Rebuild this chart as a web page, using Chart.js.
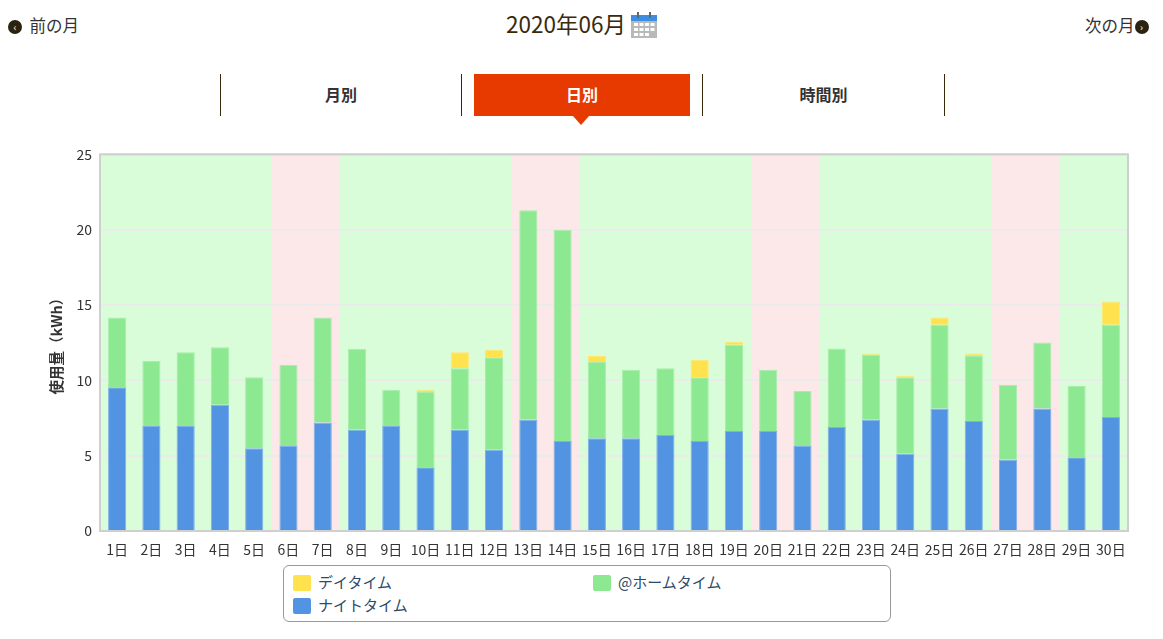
<!DOCTYPE html>
<html><head><meta charset="utf-8">
<script src="https://cdn.jsdelivr.net/npm/chart.js@4/dist/chart.umd.min.js"></script>
<style>
html,body{margin:0;padding:0;background:#fff;width:1163px;height:639px;overflow:hidden;font-family:"Noto Sans CJK JP","Noto Sans",sans-serif;}
.abs{position:absolute;}
.nav{font-size:16.5px;color:#333;top:13px;line-height:24px;}
.circ{display:inline-block;width:14px;height:14px;border-radius:50%;background:#2b2210;color:#fff;font-size:10px;line-height:14px;text-align:center;vertical-align:middle;position:relative;top:-1px;}
#title{left:0;width:1163px;top:8px;text-align:center;font-size:22.5px;color:#3a2a0c;line-height:30px;}
.div{width:1px;background:#3a2a0c;top:74px;height:42px;}
.tab{top:74px;height:42px;line-height:40px;text-align:center;font-size:16px;font-weight:bold;color:#333;}
#legend{left:283px;top:565px;width:606px;height:55px;border:1px solid #999;border-radius:6px;}
.li{position:absolute;font-size:15px;color:#2d4a68;line-height:18px;}
.sw{display:inline-block;width:18px;height:16px;border-radius:2px;vertical-align:middle;margin-right:7px;position:relative;top:-1px;}
</style></head>
<body>
<div class="abs nav" style="left:8px;"><span class="circ">&#8249;</span>&nbsp; 前の月</div>
<div class="abs nav" style="left:1085px;">次の月<span class="circ">&#8250;</span></div>
<div id="title" class="abs">2020年06月 <svg width="26" height="26" viewBox="0 0 26 26" style="vertical-align:middle;position:relative;top:-2px;">
<rect x="0" y="3" width="26" height="23" fill="#b9b9b9"/><rect x="0" y="3" width="26" height="6" fill="#3d8ee0"/>
<rect x="6" y="0" width="2" height="6" fill="#666"/><rect x="18" y="0" width="2" height="6" fill="#666"/>
<g fill="#fff"><rect x="3" y="11" width="4" height="3"/><rect x="8.5" y="11" width="4" height="3"/><rect x="14" y="11" width="4" height="3"/><rect x="19.5" y="11" width="4" height="3"/>
<rect x="3" y="16" width="4" height="3"/><rect x="8.5" y="16" width="4" height="3"/><rect x="14" y="16" width="4" height="3"/><rect x="19.5" y="16" width="4" height="3"/>
<rect x="3" y="21" width="4" height="3"/><rect x="8.5" y="21" width="4" height="3"/><rect x="14" y="21" width="4" height="3"/></g></svg></div>
<div class="abs div" style="left:220px;"></div>
<div class="abs div" style="left:461px;"></div>
<div class="abs div" style="left:702px;"></div>
<div class="abs div" style="left:944px;"></div>
<div class="abs tab" style="left:221px;width:240px;">月別</div>
<div class="abs tab" style="left:474px;width:216px;background:#e63a00;color:#fff;">日別</div>
<div class="abs" style="left:573px;top:116px;width:0;height:0;border-left:8px solid transparent;border-right:8px solid transparent;border-top:9px solid #e63a00;"></div>
<div class="abs tab" style="left:703px;width:241px;">時間別</div>
<div class="abs" style="left:0;top:138px;width:1163px;height:422px;"><canvas id="c"></canvas></div>
<div id="legend" class="abs">
<div class="li" style="left:9px;top:7px;"><span class="sw" style="background:#ffe24d"></span>デイタイム</div>
<div class="li" style="left:309px;top:7px;"><span class="sw" style="background:#8ce991"></span>@ホームタイム</div>
<div class="li" style="left:9px;top:30px;"><span class="sw" style="background:#5294e2"></span>ナイトタイム</div>
</div>
<script>
const days = ["1日","2日","3日","4日","5日","6日","7日","8日","9日","10日","11日","12日","13日","14日","15日","16日","17日","18日","19日","20日","21日","22日","23日","24日","25日","26日","27日","28日","29日","30日"];
const nightTime = [9.54,6.97,6.97,8.38,5.49,5.64,7.21,6.73,6.97,4.23,6.73,5.40,7.39,5.97,6.15,6.15,6.37,5.97,6.64,6.64,5.64,6.90,7.39,5.13,8.14,7.30,4.73,8.14,4.89,7.57];
const homeTime = [4.64,4.31,4.89,3.81,4.71,5.38,6.97,5.37,2.41,5.00,4.07,6.13,13.91,14.03,5.07,4.56,4.43,4.23,5.73,4.07,3.65,5.22,4.31,5.07,5.55,4.32,4.98,4.38,4.73,6.12];
const dayTime = [0,0,0,0,0,0,0,0,0,0.15,1.06,0.51,0,0,0.40,0,0,1.17,0.17,0,0,0,0.09,0.11,0.49,0.17,0,0,0,1.55];
const holidays = [0,0,0,0,0,1,1,0,0,0,0,0,1,1,0,0,0,0,0,1,1,0,0,0,0,0,1,1,0,0];
const yTicks = [0,5,10,15,20,25];

const bgPlugin = {
  id:'bands',
  beforeDraw(chart){
    const {ctx, chartArea:a, scales:{x}} = chart;
    const w = (a.right - a.left)/days.length;
    ctx.save();
    days.forEach((d,i)=>{
      const cx = x.getPixelForValue(i);
      ctx.fillStyle = holidays[i] ? '#fce8e8' : '#d9fdd9';
      ctx.fillRect(cx - w/2, a.top, w+0.5, a.bottom - a.top);
    });
    ctx.restore();
  },
  afterDraw(chart){
    const {ctx, chartArea:a} = chart;
    ctx.save();
    ctx.strokeStyle = '#cfcfcf'; ctx.lineWidth = 2;
    ctx.strokeRect(a.left, a.top, a.right-a.left, a.bottom-a.top);
    ctx.restore();
  }
};

new Chart(document.getElementById('c'), {
  type:'bar',
  data:{
    labels: days,
    datasets:[
      {label:'ナイトタイム', data: nightTime, backgroundColor:'#5294e2', borderColor:'#7fb0ea', borderWidth:1},
      {label:'@ホームタイム', data: homeTime, backgroundColor:'#8ce991', borderColor:'#a6eeaa', borderWidth:1},
      {label:'デイタイム', data: dayTime, backgroundColor:'#ffe24d', borderColor:'#ffe770', borderWidth:1}
    ]
  },
  options:{
    responsive:true, maintainAspectRatio:false, animation:false,
    layout:{padding:{left:48,right:35,top:5,bottom:0}},
    datasets:{bar:{categoryPercentage:1, barPercentage:0.53}},
    plugins:{legend:{display:false}, tooltip:{enabled:false}},
    scales:{
      x:{stacked:true, grid:{display:false}, border:{display:false},
         ticks:{color:'#333', font:{size:14, family:'"Noto Sans CJK JP"'}, maxRotation:0, autoSkip:false, padding:2},
         afterFit(s){ s.height = 29; }},
      y:{stacked:true, min:0, max:25,
         afterBuildTicks(s){ s.ticks = yTicks.map(v=>({value:v})); },
         grid:{color:'#ebebeb', lineWidth:2, drawTicks:false}, border:{display:false},
         ticks:{color:'#333', font:{size:14, family:'"Noto Sans CJK JP"'}, padding:8},
         title:{display:true, text:'使用量（kWh）', color:'#333', font:{size:14.5, weight:'bold', family:'"Noto Sans CJK JP"'}, padding:{top:0,bottom:4}},
         afterFit(s){ s.width = 52; }}
    }
  },
  plugins:[bgPlugin]
});
</script>
</body></html>
